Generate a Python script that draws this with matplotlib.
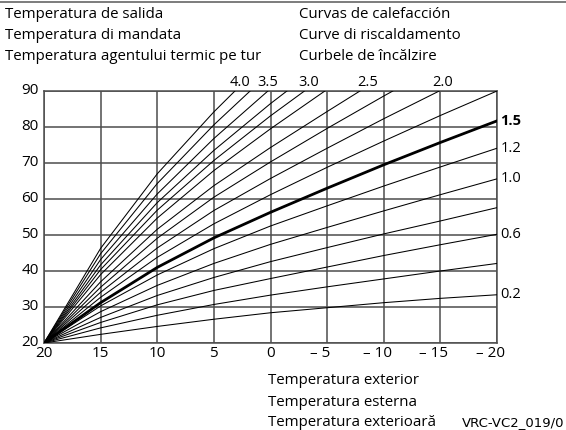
import matplotlib
matplotlib.use("Agg")
import matplotlib.pyplot as plt
import matplotlib.transforms as mtrans
from matplotlib.lines import Line2D

# outdoor temperature grid (x axis runs from +20 down to -20)
t_out = [20, 15, 10, 5, 0, -5, -10, -15, -20]

# flow temperature at the grid points above
low_curves = {
    "0.2": [20, 22.4, 24.6, 26.6, 28.4, 29.8, 31.2, 32.4, 33.4],
    "0.4": [20, 24.2, 27.7, 30.7, 33.3, 35.6, 37.8, 40.0, 42.1],
    "0.6": [20, 25.7, 30.6, 34.6, 37.9, 41.1, 44.3, 47.3, 50.2],
    "0.8": [20, 27.1, 33.2, 38.2, 42.6, 46.5, 50.3, 53.9, 57.6],
    "1.0": [20, 28.7, 36.0, 42.1, 47.4, 52.1, 56.7, 61.2, 65.6],
    "1.2": [20, 30.3, 38.9, 46.2, 52.5, 58.1, 63.6, 68.9, 74.1],
    "1.5": [20, 31.2, 41.0, 49.2, 56.3, 63.0, 69.5, 75.7, 81.7],
    "1.8": [20, 32.7, 43.8, 53.1, 61.2, 68.8, 76.1, 83.2, 90.0],
}

# steep curves: values up to the last grid point below 90, then where they leave the top
high_curves = {
    "2.0": ([20, 15, 10, 5, 0, -5, -10, -14.9], [20, 34.1, 46.4, 56.8, 65.7, 74.1, 82.3, 90]),
    "2.25": ([20, 15, 10, 5, 0, -5, -10, -10.8], [20, 35.5, 49.1, 60.5, 70.3, 79.6, 88.6, 90]),
    "2.5": ([20, 15, 10, 5, 0, -5, -7.9], [20, 37.0, 51.6, 63.7, 74.3, 84.3, 90]),
    "2.75": ([20, 15, 10, 5, 0, -4.8], [20, 39.0, 54.7, 67.9, 79.5, 90]),
    "3.0": ([20, 15, 10, 5, 0, -3.0], [20, 40.4, 56.9, 70.7, 83.1, 90]),
    "3.25": ([20, 15, 10, 5, 0, -1.45], [20, 41.7, 59.0, 73.5, 86.5, 90]),
    "3.5": ([20, 15, 10, 5, 0.23], [20, 43.2, 61.4, 76.8, 90]),
    "3.75": ([20, 15, 10, 5, 1.8], [20, 44.8, 64.3, 80.6, 90]),
    "4.0": ([20, 15, 10, 5, 3.14], [20, 46.3, 67.0, 84.2, 90]),
}

right_labels = ["1.5", "1.2", "1.0", "0.6", "0.2"]
top_labels = ["4.0", "3.5", "3.0", "2.5", "2.0"]
top_label_x = [2.7, 0.2, -3.4, -8.6, -15.2]

y_ticks = [20, 30, 40, 50, 60, 70, 80, 90]
x_ticks = [20, 15, 10, 5, 0, -5, -10, -15, -20]
x_ticklabels = ["20", "15", "10", "5", "0", "\u2013 5", "\u2013 10", "\u2013 15", "\u2013 20"]

plt.rcParams["font.family"] = ["Open Sans", "DejaVu Sans"]
fs = 10.8
grid_col = "#4d4d4d"

fig = plt.figure(figsize=(5.66, 4.30), dpi=100)
ax = fig.add_axes([44 / 566, 1 - 343 / 430, (497 - 44) / 566, (343 - 91) / 430])
ax.set_xlim(20, -20)
ax.set_ylim(20, 90)

for x in x_ticks:
    ax.axvline(x, color=grid_col, lw=1.1, zorder=1)
for y in y_ticks:
    ax.axhline(y, color=grid_col, lw=1.1, zorder=1)

for name, vals in low_curves.items():
    lw = 2.0 if name == "1.5" else 0.75
    ax.plot(t_out, vals, color="black", lw=lw, zorder=3)
for name, (xs, ys) in high_curves.items():
    ax.plot(xs, ys, color="black", lw=0.75, zorder=3)

ax.set_xticks([])
ax.set_yticks([])
for s in ax.spines.values():
    s.set_color(grid_col)
    s.set_linewidth(1.1)

# tick labels
for y in y_ticks:
    ax.text(-0.012, y, str(y), transform=ax.get_yaxis_transform(), ha="right", va="center", fontsize=11)
for x, lab in zip(x_ticks, x_ticklabels):
    tr = ax.get_xaxis_transform()
    if lab.startswith("\u2013"):
        tr = tr + mtrans.ScaledTranslation(-0.065, 0, fig.dpi_scale_trans)
    ax.text(x, -0.012, lab, transform=tr, ha="center", va="top", fontsize=11)

# curve labels on the right
for name in right_labels:
    yv = low_curves[name][-1]
    ax.text(1.008, yv, name, transform=ax.get_yaxis_transform(), ha="left", va="center",
            fontsize=10.5, fontweight="bold" if name == "1.5" else "normal")
# curve labels along the top
for name, xv in zip(top_labels, top_label_x):
    ax.text(xv, 1.004, name, transform=ax.get_xaxis_transform(), ha="center", va="bottom", fontsize=10.5)

# header texts
left_head = ["Temperatura de salida", "Temperatura di mandata", "Temperatura agentului termic pe tur"]
right_head = ["Curvas de calefacci\u00f3n", "Curve di riscaldamento", "Curbele de \u00eenc\u0103lzire"]
for i, (a, b) in enumerate(zip(left_head, right_head)):
    yy = 1 - (15 + 20.5 * i) / 430
    fig.text(5 / 566, yy, a, ha="left", va="center", fontsize=fs)
    fig.text(299 / 566, yy, b, ha="left", va="center", fontsize=fs)

foot = ["Temperatura exterior", "Temperatura esterna", "Temperatura exterioar\u0103"]
for i, a in enumerate(foot):
    yy = 1 - (381 + 21 * i) / 430
    fig.text(268 / 566, yy, a, ha="left", va="center", fontsize=fs)
fig.text(564 / 566, 1 - 423 / 430, "VRC-VC2_019/0", ha="right", va="center",
         fontsize=9.5, family="DejaVu Sans")

# thin rule across the very top
fig.add_artist(Line2D([0, 1], [1 - 2 / 430, 1 - 2 / 430], transform=fig.transFigure, color="#666666", lw=1.2))

fig.savefig("out.png", dpi=100)
